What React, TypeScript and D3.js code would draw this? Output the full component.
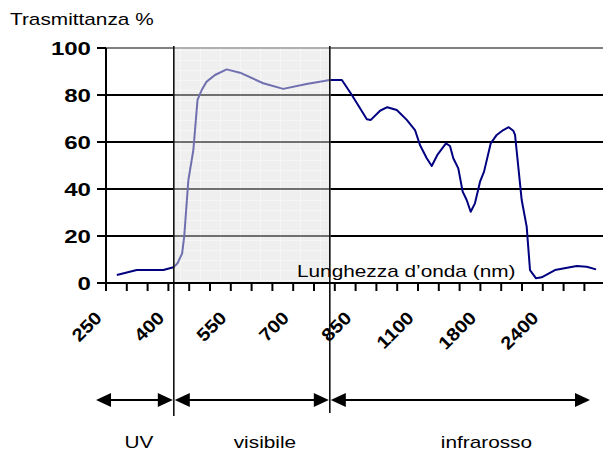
import React from "react";
import * as d3 from "d3";

// wavelength axis: labelled categories sit every 3 tick marks, spacing is not linear in nm
const wavelengthBreaks = [250, 400, 550, 700, 850, 1100, 1800, 2400, 3000];
const labelTicks = [250, 400, 550, 700, 850, 1100, 1800, 2400];
const yTicks = [0, 20, 40, 60, 80, 100];

// transmittance curve (nm, %)
const wavelengths = [
  276, 324, 388, 412, 422, 433, 438, 448, 460, 470, 480, 492, 512, 540, 572, 628, 676, 732, 788,
  817, 841, 895, 911, 948, 977, 1015, 1055, 1088, 1122, 1198, 1254, 1317, 1414, 1459, 1496, 1552,
  1601, 1646, 1691, 1739, 1796, 1835, 1899, 1957, 2020, 2072, 2116, 2133, 2197, 2245, 2277, 2335,
  2389, 2517, 2726, 2822, 2912,
];
const transmittance = [
  3.4, 5.5, 5.5, 6.7, 8.4, 12.6, 19.7, 43.8, 56.6, 77.9, 82.1, 85.7, 88.5, 90.9, 89.5, 85.0, 82.6,
  84.7, 86.4, 86.4, 80.0, 69.7, 69.4, 73.3, 74.8, 73.6, 69.4, 65.1, 58.7, 53.1, 49.8, 54.5, 59.4,
  58.3, 53.1, 48.8, 38.9, 35.3, 30.3, 33.9, 43.1, 47.4, 59.4, 63.0, 65.1, 66.3, 64.8, 63.0, 35.3,
  24.0, 5.5, 2.0, 2.4, 5.5, 7.2, 6.9, 5.8,
];

// spectral bands drawn under the axis
const bandNames = ["UV", "visibile", "infrarosso"];
const bandEdges = [226, 413, 788, 2854];
const bandLabelAt = [329, 632, 1858];
const visibleRange = [413, 788];

const FONT = "'Liberation Sans', Arial, sans-serif";
const STRETCH = 1.3;

const App = () => {
  const svgRef = React.useRef(null);
  const width = 603;
  const height = 455;
  const margin = { left: 106, top: 48 };
  const plotW = 499.2;
  const plotH = 235;

  React.useEffect(() => {
    const xScale = d3.scaleLinear()
      .domain(wavelengthBreaks)
      .range(wavelengthBreaks.map((_, i) => margin.left + (i * plotW) / (wavelengthBreaks.length - 1)));
    const yScale = d3.scaleLinear().domain([0, 100]).range([margin.top + plotH, margin.top]);
    const x0 = margin.left;
    const x1 = margin.left + plotW;
    const yBase = yScale(0);

    const svg = d3.select(svgRef.current);
    svg.selectAll("*").remove();

    const defs = svg.append("defs");
    const pat = defs.append("pattern")
      .attr("id", "shade")
      .attr("patternUnits", "userSpaceOnUse")
      .attr("width", 20)
      .attr("height", 10);
    pat.append("rect").attr("width", 20).attr("height", 10).attr("fill", "#dedede");
    pat.append("path").attr("d", "M0,0.5H20M0.5,0V10").attr("stroke", "#ececec").attr("stroke-width", 1);

    // horizontal grid lines
    svg.append("g")
      .selectAll("line")
      .data(yTicks.filter((d) => d > 0))
      .enter()
      .append("line")
      .attr("x1", x0)
      .attr("x2", x1)
      .attr("y1", (d) => yScale(d))
      .attr("y2", (d) => yScale(d))
      .attr("stroke", (d) => (d === 100 ? "#808080" : "#000"))
      .attr("stroke-width", 2);

    // curve
    const pts = wavelengths.map((w, i) => [w, transmittance[i]] as [number, number]);
    const line = d3.line<[number, number]>()
      .x((d) => xScale(d[0]))
      .y((d) => yScale(d[1]));
    svg.append("path")
      .attr("d", line(pts))
      .attr("fill", "none")
      .attr("stroke", "#000080")
      .attr("stroke-width", 2)
      .attr("stroke-linejoin", "round");

    // visible region overlay (semi transparent, sits on top of the grid and curve)
    svg.append("rect")
      .attr("x", xScale(visibleRange[0]))
      .attr("y", margin.top - 1)
      .attr("width", xScale(visibleRange[1]) - xScale(visibleRange[0]) + 1)
      .attr("height", plotH + 1)
      .attr("fill", "url(#shade)")
      .attr("opacity", 0.5);

    // band separators
    svg.append("g")
      .selectAll("line")
      .data(visibleRange)
      .enter()
      .append("line")
      .attr("x1", (d) => xScale(d))
      .attr("x2", (d) => xScale(d))
      .attr("y1", margin.top - 2)
      .attr("y2", (d, i) => (i === 0 ? 416 : 413))
      .attr("stroke", "#111")
      .attr("stroke-width", 1.6);

    // axes
    svg.append("line")
      .attr("x1", x0).attr("x2", x0)
      .attr("y1", margin.top).attr("y2", yBase + 1)
      .attr("stroke", "#000").attr("stroke-width", 2);
    svg.append("line")
      .attr("x1", x0 - 9).attr("x2", x1)
      .attr("y1", yBase).attr("y2", yBase)
      .attr("stroke", "#000").attr("stroke-width", 2);

    svg.append("g")
      .selectAll("line")
      .data(yTicks)
      .enter()
      .append("line")
      .attr("x1", x0 - 9)
      .attr("x2", x0)
      .attr("y1", (d) => yScale(d))
      .attr("y2", (d) => yScale(d))
      .attr("stroke", "#000")
      .attr("stroke-width", 2);

    // minor ticks: three per labelled interval
    const minor: number[] = [];
    for (let i = 0; i < wavelengthBreaks.length - 1; i++) {
      const a = wavelengthBreaks[i];
      const b = wavelengthBreaks[i + 1];
      for (let j = 0; j < 3; j++) minor.push(a + (j * (b - a)) / 3);
    }
    minor.push(wavelengthBreaks[wavelengthBreaks.length - 1]);
    svg.append("g")
      .selectAll("line")
      .data(minor)
      .enter()
      .append("line")
      .attr("x1", (d) => xScale(d))
      .attr("x2", (d) => xScale(d))
      .attr("y1", yBase)
      .attr("y2", yBase + 8)
      .attr("stroke", "#000")
      .attr("stroke-width", 2);

    // y labels
    svg.append("g")
      .selectAll("text")
      .data(yTicks)
      .enter()
      .append("text")
      .attr("transform", (d) => `translate(91,${yScale(d) + 6.5}) scale(${STRETCH},1)`)
      .attr("text-anchor", "end")
      .attr("font-family", FONT)
      .attr("font-weight", "bold")
      .attr("font-size", 18.5)
      .text((d) => d);

    // x labels, rotated, anchored at the baseline end
    svg.append("g")
      .selectAll("text")
      .data(labelTicks)
      .enter()
      .append("text")
      .attr("transform", (d) => `translate(${xScale(d) - 3},${yBase + 36}) rotate(-45) scale(1.12,1)`)
      .attr("text-anchor", "end")
      .attr("font-family", FONT)
      .attr("font-weight", "bold")
      .attr("font-size", 18)
      .text((d) => d);

    // titles
    svg.append("text")
      .attr("transform", `translate(10,25) scale(${STRETCH},1)`)
      .attr("font-family", FONT)
      .attr("font-size", 16)
      .text("Trasmittanza %");
    svg.append("text")
      .attr("transform", `translate(297,277) scale(${STRETCH},1)`)
      .attr("font-family", FONT)
      .attr("font-size", 16)
      .text("Lunghezza d\u2019onda (nm)");

    // band arrows
    const arrowY = 400;
    const head = 15;
    const half = 7;
    const bands = bandNames.map((name, i) => ({ name, from: bandEdges[i], to: bandEdges[i + 1], at: bandLabelAt[i] }));
    const g = svg.append("g");
    bands.forEach((b) => {
      const a = xScale(b.from) + (b.from === bandEdges[0] ? 0 : 1);
      const z = xScale(b.to) - (b.to === bandEdges[bandEdges.length - 1] ? 0 : 1);
      g.append("line")
        .attr("x1", a + head - 2).attr("x2", z - head + 2)
        .attr("y1", arrowY).attr("y2", arrowY)
        .attr("stroke", "#000").attr("stroke-width", 2);
      g.append("path")
        .attr("d", `M${a},${arrowY}L${a + head},${arrowY - half}L${a + head},${arrowY + half}Z`)
        .attr("fill", "#000");
      g.append("path")
        .attr("d", `M${z},${arrowY}L${z - head},${arrowY - half}L${z - head},${arrowY + half}Z`)
        .attr("fill", "#000");
      g.append("text")
        .attr("transform", `translate(${xScale(b.at)},448) scale(${STRETCH},1)`)
        .attr("text-anchor", "middle")
        .attr("font-family", FONT)
        .attr("font-size", 16)
        .text(b.name);
    });
  }, []);

  return (
    <svg
      ref={svgRef}
      width={width}
      height={height}
      style={{ position: "absolute", left: 0, top: 0, background: "#fff" }}
    />
  );
};

export default App;
